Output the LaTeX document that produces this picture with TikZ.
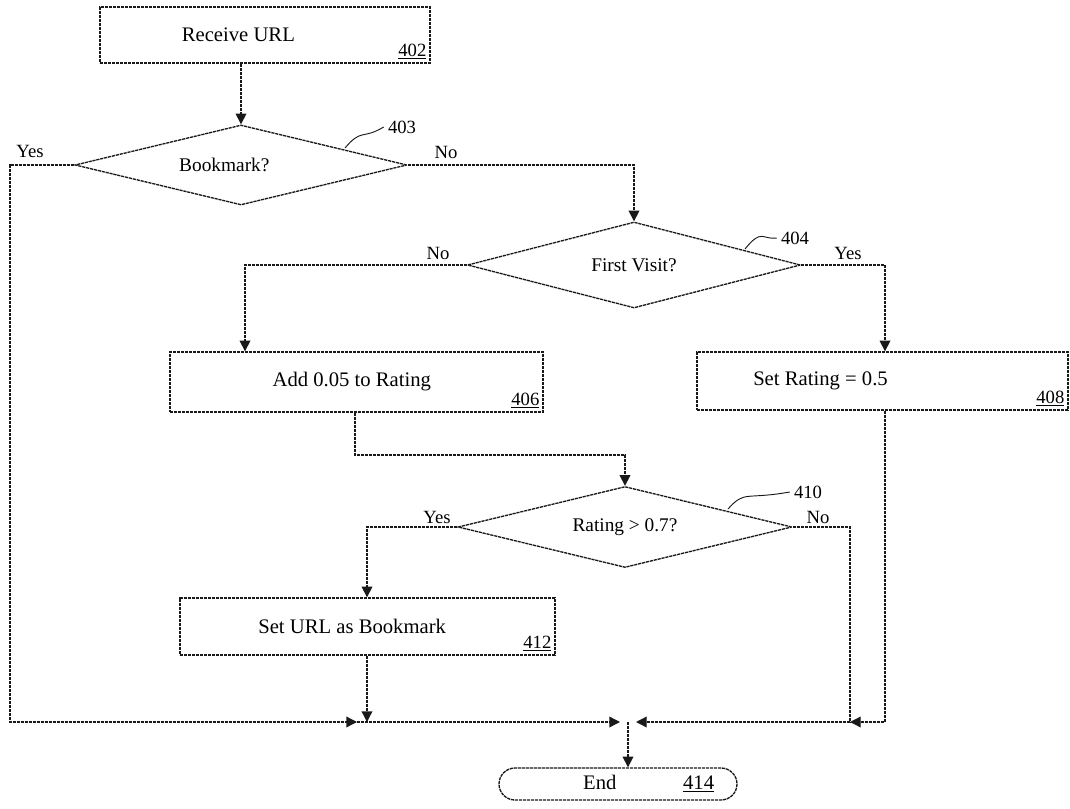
\documentclass[tikz,border=0pt]{standalone}
\usepackage{fontspec}
\setmainfont{Liberation Serif}
\usetikzlibrary{shapes.geometric,shapes.misc,arrows.meta}
\begin{document}
\begin{tikzpicture}[x=0.75pt,y=-0.75pt,
  line/.style={draw=black!90, line width=1pt, dash pattern=on 2.4pt off 0.6pt},
  arr/.style={line, -{Triangle[length=8pt,width=8pt]}},
  txt/.style={font=\fontsize{15.5}{17}\selectfont},
  dtxt/.style={font=\fontsize{14.5}{16}\selectfont},
  proc/.style={line, rectangle, inner sep=0pt, txt},
  dec/.style={line, diamond, aspect=4, inner sep=0pt, dtxt},
  num/.style={font=\fontsize{14}{16}\selectfont, inner sep=3pt},
  yn/.style={font=\fontsize{14}{16}\selectfont, inner sep=0pt},
]
\useasboundingbox (0,0) rectangle (1070,809);

% process boxes
\node[proc, minimum width=247.5pt, minimum height=42pt,
  label={[num, anchor=south east]south east:\underline{402}}]
  (b402) at (265,35) {Receive URL\hspace*{40pt}};
\node[proc, minimum width=279.75pt, minimum height=45pt,
  label={[num, anchor=south east]south east:\underline{406}}]
  (b406) at (356.5,382) {Add 0.05 to Rating\hspace*{7pt}};
\node[proc, minimum width=278.25pt, minimum height=43.5pt,
  label={[num, anchor=south east]south east:\underline{408}}]
  (b408) at (882.5,381) {Set Rating = 0.5\hspace*{93pt}};
\node[proc, minimum width=281.25pt, minimum height=42.75pt,
  label={[num, anchor=south east]south east:\underline{412}}]
  (b412) at (367.5,626.5) {Set URL as Bookmark\hspace*{23pt}};

% decisions
\node[dec, minimum width=249pt, minimum height=60pt] (d403) at (241,165) {Bookmark?\hspace*{25pt}};
\node[dec, minimum width=249.75pt, minimum height=64.5pt] (d404) at (634,265) {First Visit?};
\node[dec, minimum width=250.5pt, minimum height=60.75pt] (d410) at (625,527) {Rating > 0.7?};

% end
\node[line, rounded rectangle, minimum width=178.5pt, minimum height=24pt, inner sep=0pt, txt]
  (end) at (618,784) {\hspace*{46pt}End\hspace*{50pt}\underline{414}};

% reference labels
\node[num] (l403) at (402,127) {403};
\node[num] (l404) at (795,238) {404};
\node[num] (l410) at (808,492) {410};
\coordinate (s403) at (345,148);
\coordinate (s404) at (745,249);
\coordinate (s410) at (728,509);
\draw[line, solid, line width=0.7pt] (s403) .. controls (362,128) and (362,140) .. (l403.west);
\draw[line, solid, line width=0.7pt] (s404) .. controls (762,228) and (762,240) .. (l404.west);
\draw[line, solid, line width=0.7pt] (s410) .. controls (745,490) and (745,500) .. (l410.west);

% Yes / No labels
\node[yn] (y403) at (30,151) {Yes};
\node[yn] (n403) at (446,152) {No};
\node[yn] (n404) at (438,253) {No};
\node[yn] (y404) at (848,253) {Yes};
\node[yn] (y410) at (437,517) {Yes};
\node[yn] (n410) at (818,517) {No};

% helper coordinates
\coordinate (cL) at (10,722);
\coordinate (m1) at (357,722);
\coordinate (mL) at (620,722);
\coordinate (mg) at (628,722);
\coordinate (mR) at (636,722);
\coordinate (c410r) at (850,722);
\coordinate (r408) at (885,722);
\coordinate (c406) at (245,0);
\coordinate (k406) at (355,455);
\coordinate (c412) at (367,722);

% connectors
\draw[arr] (d403.north |- b402.south) -- (d403.north);
\draw[arr] (d403.east) -| (d404.north);
\draw[arr] (d403.west) -| (cL) -- (m1);
\draw[arr] (m1) -- (mL);
\draw[arr] (d404.west) -| (c406 |- b406.north);
\draw[arr] (d404.east) -| (r408 |- b408.north);
\draw[arr] (k406 |- b406.south) |- (d410.north |- k406) -- (d410.north);
\draw[arr] (d410.west) -| (c412 |- b412.north);
\draw[line] (d410.east) -| (c410r);
\draw[arr] (r408 |- b408.south) -- (r408) -- (c410r);
\draw[arr] (c410r) -- (mR);
\draw[arr] (c412 |- b412.south) -- (c412);
\draw[arr] (mg) -- (mg |- end.north);
\end{tikzpicture}
\end{document}
